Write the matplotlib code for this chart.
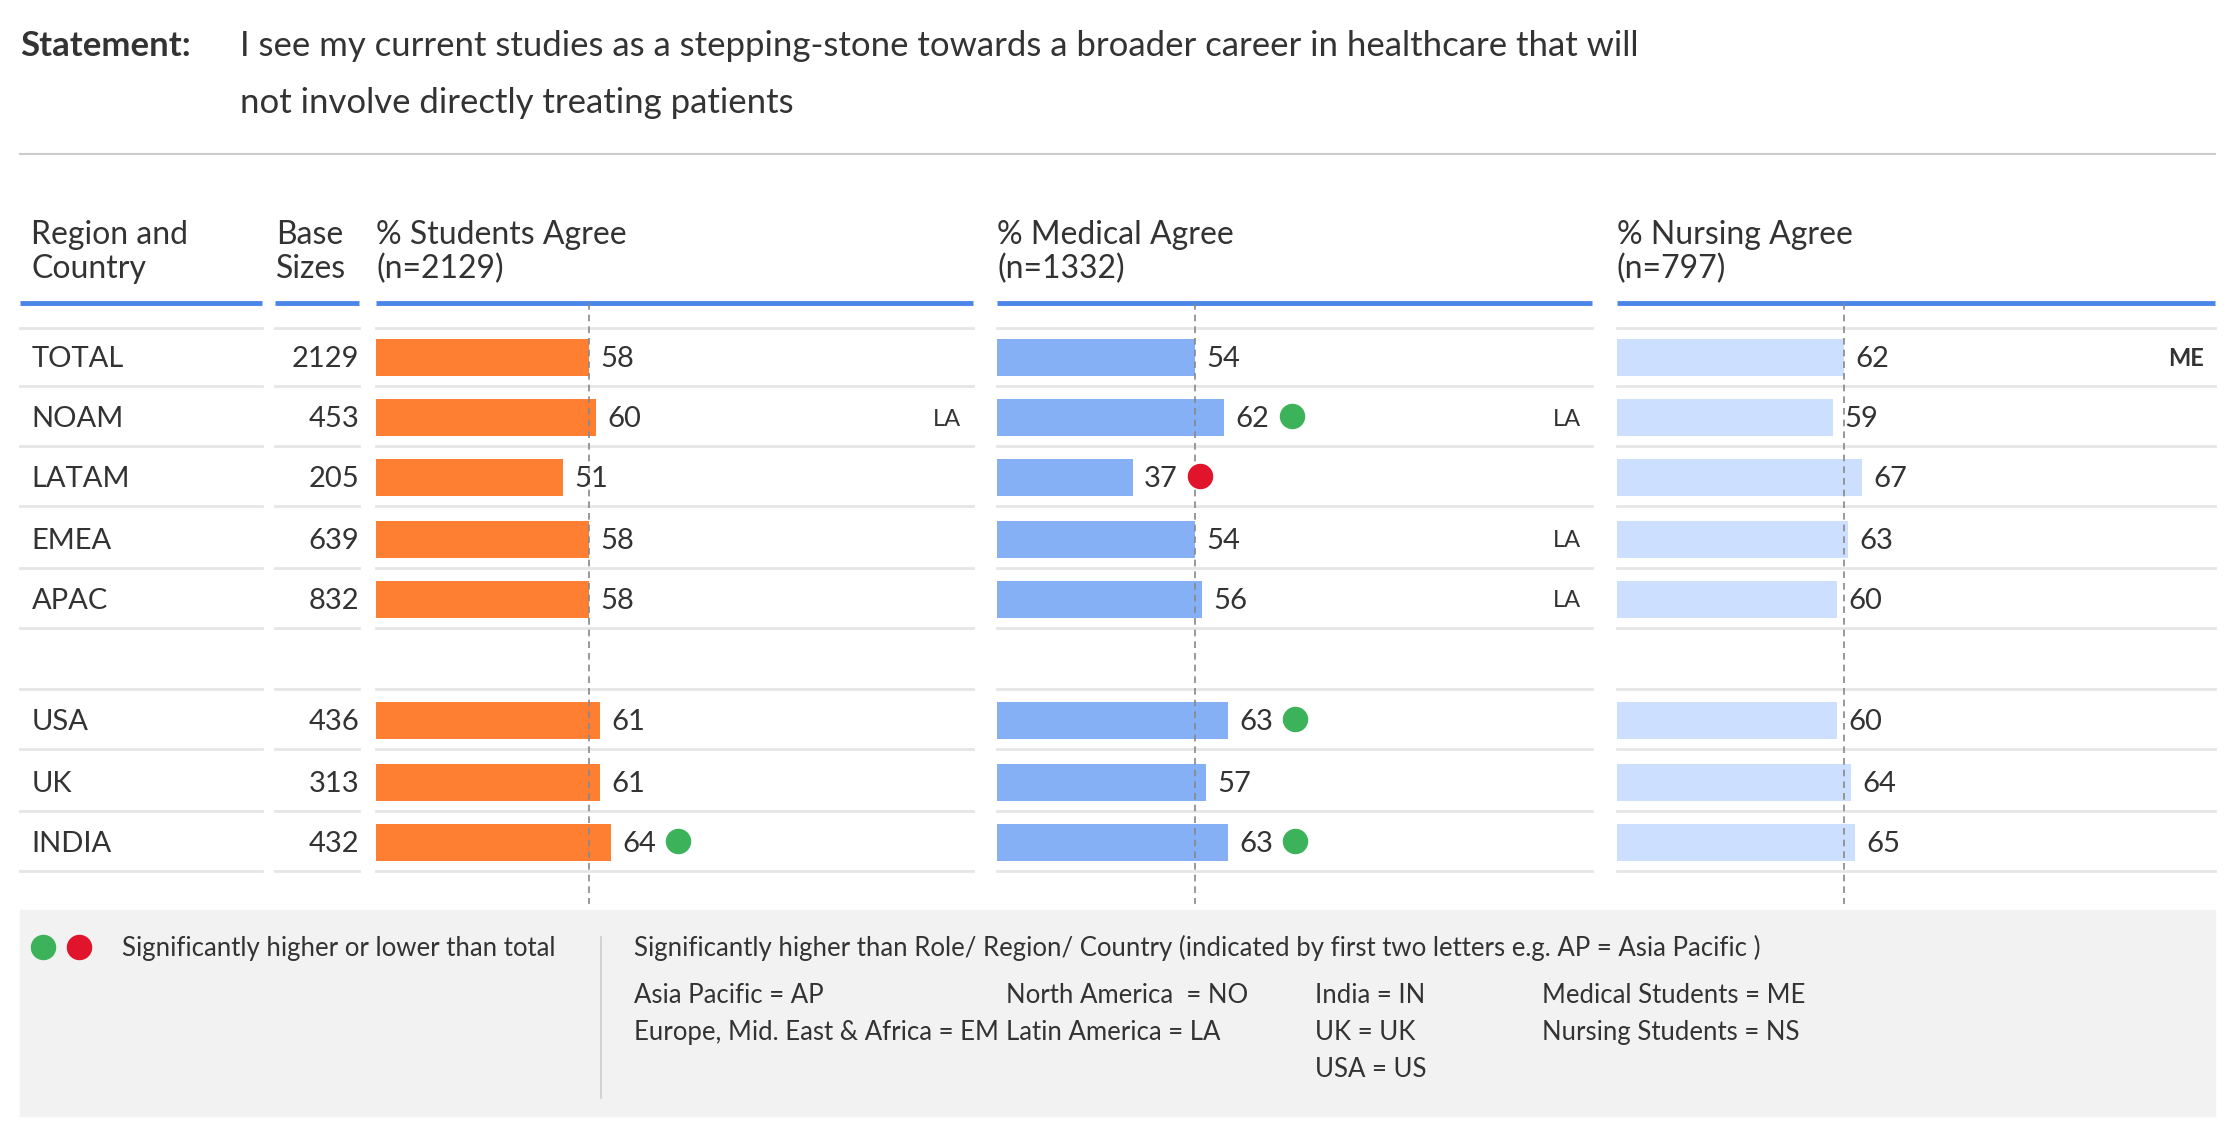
import matplotlib.pyplot as plt

plt.rcParams['font.family'] = ['Lato', 'DejaVu Sans']

# data
rows = ['TOTAL', 'NOAM', 'LATAM', 'EMEA', 'APAC', 'USA', 'UK', 'INDIA']
base = [2129, 453, 205, 639, 832, 436, 313, 432]
students = [58, 60, 51, 58, 58, 61, 61, 64]
medical = [54, 62, 37, 54, 56, 63, 57, 63]
nursing = [62, 59, 67, 63, 60, 60, 64, 65]
stud_dots = [None, None, None, None, None, None, None, 'g']
med_dots = [None, 'g', 'r', None, None, 'g', None, 'g']
nurs_dots = [None] * 8
stud_tags = ['', 'LA', '', '', '', '', '', '']
med_tags = ['', 'LA', '', 'LA', 'LA', '', '', '']
nurs_tags = ['ME', '', '', '', '', '', '', '']
headers = ['% Students Agree\n(n=2129)', '% Medical Agree\n(n=1332)', '% Nursing Agree\n(n=797)']

W, H = 1560, 795
fig = plt.figure(figsize=(22.32, 11.37), dpi=100)
ax = fig.add_axes([0, 0, 1, 1])
ax.set_xlim(0, W)
ax.set_ylim(H, 0)
ax.axis('off')

TXT = '#333333'
FS_T = 25
FS_H = 23
FS_R = 21
FS_F = 18.5
ORANGE = '#FF7F32'
BLUE = '#86B0F5'
LBLUE = '#CCDFFF'
LINE = '#4A86E8'
GREEN = '#3CB35A'
RED = '#E0142A'
SEP = '#e6e6e6'

# title
ax.text(14, 32, 'Statement:', fontsize=FS_T, fontweight='bold', color=TXT, va='center')
ax.text(168, 32, 'I see my current studies as a stepping-stone towards a broader career in healthcare that will',
        fontsize=FS_T, color=TXT, va='center')
ax.text(168, 72, 'not involve directly treating patients', fontsize=FS_T, color=TXT, va='center')
ax.plot([14, 1548], [108, 108], color='#cccccc', lw=1.5)

# headers
ax.text(22, 176, 'Region and\nCountry', fontsize=FS_H, color=TXT, va='center', linespacing=1.15)
ax.text(193, 176, 'Base\nSizes', fontsize=FS_H, color=TXT, va='center', linespacing=1.15)
panels = [(263, 680), (697, 1113), (1130, 1548)]
for (x0, x1), h in zip(panels, headers):
    ax.text(x0, 176, h, fontsize=FS_H, color=TXT, va='center', linespacing=1.15)
segs = [(14, 183), (192, 251)] + panels
for a, b in segs:
    ax.plot([a, b], [212, 212], color=LINE, lw=3.5, solid_capstyle='butt')

# row positions
ys = [250, 292, 334, 377, 419, 504, 547, 589]
seps = [229, 270, 312, 354, 397, 439, 482, 524, 567, 609]
for s in seps:
    for a, b in segs:
        ax.plot([a, b], [s, s], color=SEP, lw=2)

for y, r, b in zip(ys, rows, base):
    ax.text(22, y + 1, r, fontsize=FS_R, color=TXT, va='center')
    ax.text(251, y + 1, str(b), fontsize=FS_R, color=TXT, va='center', ha='right')

scale = 2.56
series = [(students, ORANGE, stud_dots, stud_tags),
          (medical, BLUE, med_dots, med_tags),
          (nursing, LBLUE, nurs_dots, nurs_tags)]
for (x0, x1), (vals, col, dots, tags) in zip(panels, series):
    ax.barh(ys, [v * scale for v in vals], left=x0, height=26, color=col)
    xt = x0 + vals[0] * scale
    ax.plot([xt, xt], [212, 632], color='#888888', lw=1.2, ls=(0, (4, 3)))
    for y, v, d, t in zip(ys, vals, dots, tags):
        xe = x0 + v * scale
        ax.text(xe + 8, y + 1, str(v), fontsize=FS_R, color=TXT, va='center')
        if d:
            ax.scatter([xe + 47], [y - 1], s=300, color=GREEN if d == 'g' else RED, zorder=3)
        if t:
            ax.text(x1 - 8, y + 1, t, fontsize=17, color=TXT, va='center', ha='right',
                    fontweight='bold' if t == 'ME' else 'normal')

# footer
ax.add_patch(plt.Rectangle((14, 636), 1534, 144, color='#f2f2f2', zorder=0))
ax.scatter([30], [662], s=300, color=GREEN)
ax.scatter([55], [662], s=300, color=RED)
ax.text(85, 663, 'Significantly higher or lower than total', fontsize=FS_F, color=TXT, va='center')
ax.plot([420, 420], [655, 768], color='#cccccc', lw=1.2)
ax.text(443, 663, 'Significantly higher than Role/ Region/ Country (indicated by first two letters e.g. AP = Asia Pacific )',
        fontsize=FS_F, color=TXT, va='center')
legend_cols = [(443, ['Asia Pacific = AP', 'Europe, Mid. East & Africa = EM']),
               (703, ['North America  = NO', 'Latin America = LA']),
               (919, ['India = IN', 'UK = UK', 'USA = US']),
               (1078, ['Medical Students = ME', 'Nursing Students = NS'])]
for x, items in legend_cols:
    for i, t in enumerate(items):
        ax.text(x, 696 + i * 26, t, fontsize=FS_F, color=TXT, va='center')

fig.savefig('out.png', dpi=100)
